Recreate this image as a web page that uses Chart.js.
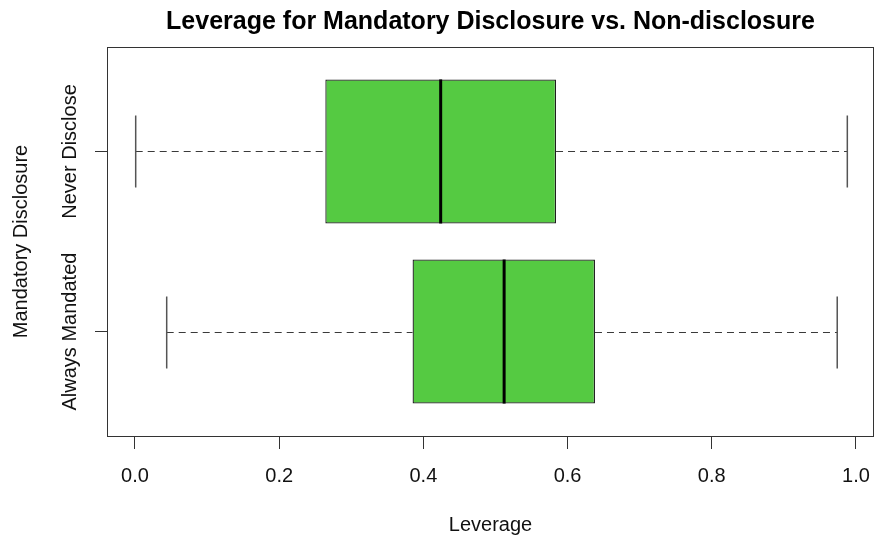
<!DOCTYPE html>
<html>
<head>
<meta charset="utf-8">
<title>Leverage for Mandatory Disclosure vs. Non-disclosure</title>
<script src="https://cdn.jsdelivr.net/npm/chart.js@4/dist/chart.umd.min.js"></script>
<style>
  html, body { margin: 0; padding: 0; background: #ffffff; }
  #chart { display: block; }
</style>
</head>
<body>
<canvas id="chart" width="875" height="540"></canvas>
<script>
// Groups, bottom to top, and their position on the group axis
const categories = ['Always Mandated', 'Never Disclose'];
const positions = [1, 2];

// Five-number summaries of leverage per group
const whiskerLow  = [0.044, 0.001];
const q1          = [0.385, 0.264];
const median      = [0.512, 0.424];
const q3          = [0.638, 0.584];
const whiskerHigh = [0.974, 0.988];

// Value axis ticks
const xTicks = [0.0, 0.2, 0.4, 0.6, 0.8, 1.0];

const FONT = '"Liberation Sans", Arial, Helvetica, sans-serif';
const INK = '#333333';

// Whiskers, staples, medians and group labels, placed through the chart's scales
const boxPlotExtras = {
  id: 'boxPlotExtras',
  afterDatasetsDraw(chart) {
    const { ctx, scales: { x, y } } = chart;
    const bars = chart.getDatasetMeta(0).data;
    ctx.save();
    positions.forEach((p, i) => {
      const cy = Math.round(y.getPixelForValue(p)) + 0.5;
      const half = bars[i].height / 2;
      const staple = half / 2;
      const xLo = x.getPixelForValue(whiskerLow[i]);
      const xQ1 = x.getPixelForValue(q1[i]);
      const xQ3 = x.getPixelForValue(q3[i]);
      const xHi = x.getPixelForValue(whiskerHigh[i]);
      const xMed = x.getPixelForValue(median[i]);

      // dashed whiskers
      ctx.strokeStyle = '#3a3a3a';
      ctx.lineWidth = 1;
      ctx.setLineDash([7, 5]);
      ctx.beginPath();
      ctx.moveTo(xLo, cy); ctx.lineTo(xQ1, cy);
      ctx.moveTo(xQ3, cy); ctx.lineTo(xHi, cy);
      ctx.stroke();

      // staples
      ctx.setLineDash([]);
      ctx.strokeStyle = '#555555';
      ctx.lineWidth = 1.5;
      ctx.beginPath();
      ctx.moveTo(xLo, cy - staple); ctx.lineTo(xLo, cy + staple);
      ctx.moveTo(xHi, cy - staple); ctx.lineTo(xHi, cy + staple);
      ctx.stroke();

      // median
      ctx.strokeStyle = '#000000';
      ctx.lineWidth = 3;
      ctx.beginPath();
      ctx.moveTo(xMed, bars[i].y - half);
      ctx.lineTo(xMed, bars[i].y + half);
      ctx.stroke();
    });
    ctx.restore();
  },
  afterDraw(chart) {
    const { ctx, chartArea: a, scales: { y } } = chart;
    ctx.save();
    // plot frame
    ctx.strokeStyle = INK;
    ctx.lineWidth = 1;
    ctx.strokeRect(Math.round(a.left) + 0.5, Math.round(a.top) + 0.5,
                   Math.round(a.right - a.left) - 1, Math.round(a.bottom - a.top));
    // group labels, written along the vertical axis
    ctx.fillStyle = '#111111';
    ctx.font = '20px ' + FONT;
    ctx.textAlign = 'center';
    ctx.textBaseline = 'middle';
    positions.forEach((p, i) => {
      ctx.save();
      ctx.translate(y.left + 70, y.getPixelForValue(p));
      ctx.rotate(-Math.PI / 2);
      ctx.fillText(categories[i], 0, 0);
      ctx.restore();
    });
    ctx.restore();
  }
};

new Chart(document.getElementById('chart'), {
  type: 'bar',
  data: {
    datasets: [{
      data: positions.map((p, i) => ({ y: p, x: [q1[i], q3[i]] })),
      backgroundColor: '#55CA42',
      borderColor: '#1e1e1e',
      borderWidth: 1.3,
      borderSkipped: false,
      barPercentage: 0.8,
      categoryPercentage: 1.0
    }]
  },
  options: {
    indexAxis: 'y',
    responsive: false,
    animation: false,
    devicePixelRatio: 1,
    layout: { padding: { left: 0, right: 1, top: 0, bottom: 0 } },
    plugins: {
      legend: { display: false },
      tooltip: { enabled: false },
      title: {
        display: true,
        fullSize: false,
        text: 'Leverage for Mandatory Disclosure vs. Non-disclosure',
        color: '#000000',
        font: { family: FONT, size: 25, weight: 'bold', lineHeight: 1.2 },
        padding: { top: 7.3, bottom: 9.7 }
      }
    },
    scales: {
      x: {
        type: 'linear',
        position: 'bottom',
        min: -0.0388,
        max: 1.025,
        afterBuildTicks: s => { s.ticks = xTicks.map(v => ({ value: v })); },
        afterFit: s => { s.height = 104; s.paddingLeft = 0; s.paddingRight = 0; },
        border: { display: false },
        grid: { drawOnChartArea: false, drawTicks: true, tickLength: 13, color: INK, lineWidth: 1 },
        ticks: {
          padding: 15.5,
          color: '#111111',
          font: { family: FONT, size: 20 },
          callback: v => Number(v).toFixed(1)
        },
        title: {
          display: true,
          text: 'Leverage',
          color: '#111111',
          font: { family: FONT, size: 20, lineHeight: 1.2 },
          padding: { top: 0, bottom: 2.5 }
        }
      },
      y: {
        type: 'linear',
        position: 'left',
        min: 0.42,
        max: 2.58,
        offset: false,
        afterBuildTicks: s => { s.ticks = positions.map(v => ({ value: v })); },
        afterFit: s => { s.width = 107; s.paddingTop = 0; s.paddingBottom = 0; },
        border: { display: false },
        grid: { offset: false, drawOnChartArea: false, drawTicks: true, tickLength: 12, color: INK, lineWidth: 1 },
        ticks: { display: false },
        title: {
          display: true,
          text: 'Mandatory Disclosure',
          color: '#111111',
          font: { family: FONT, size: 20, lineHeight: 1.2 },
          padding: { top: 9, bottom: 0 }
        }
      }
    }
  },
  plugins: [boxPlotExtras]
});
</script>
</body>
</html>
